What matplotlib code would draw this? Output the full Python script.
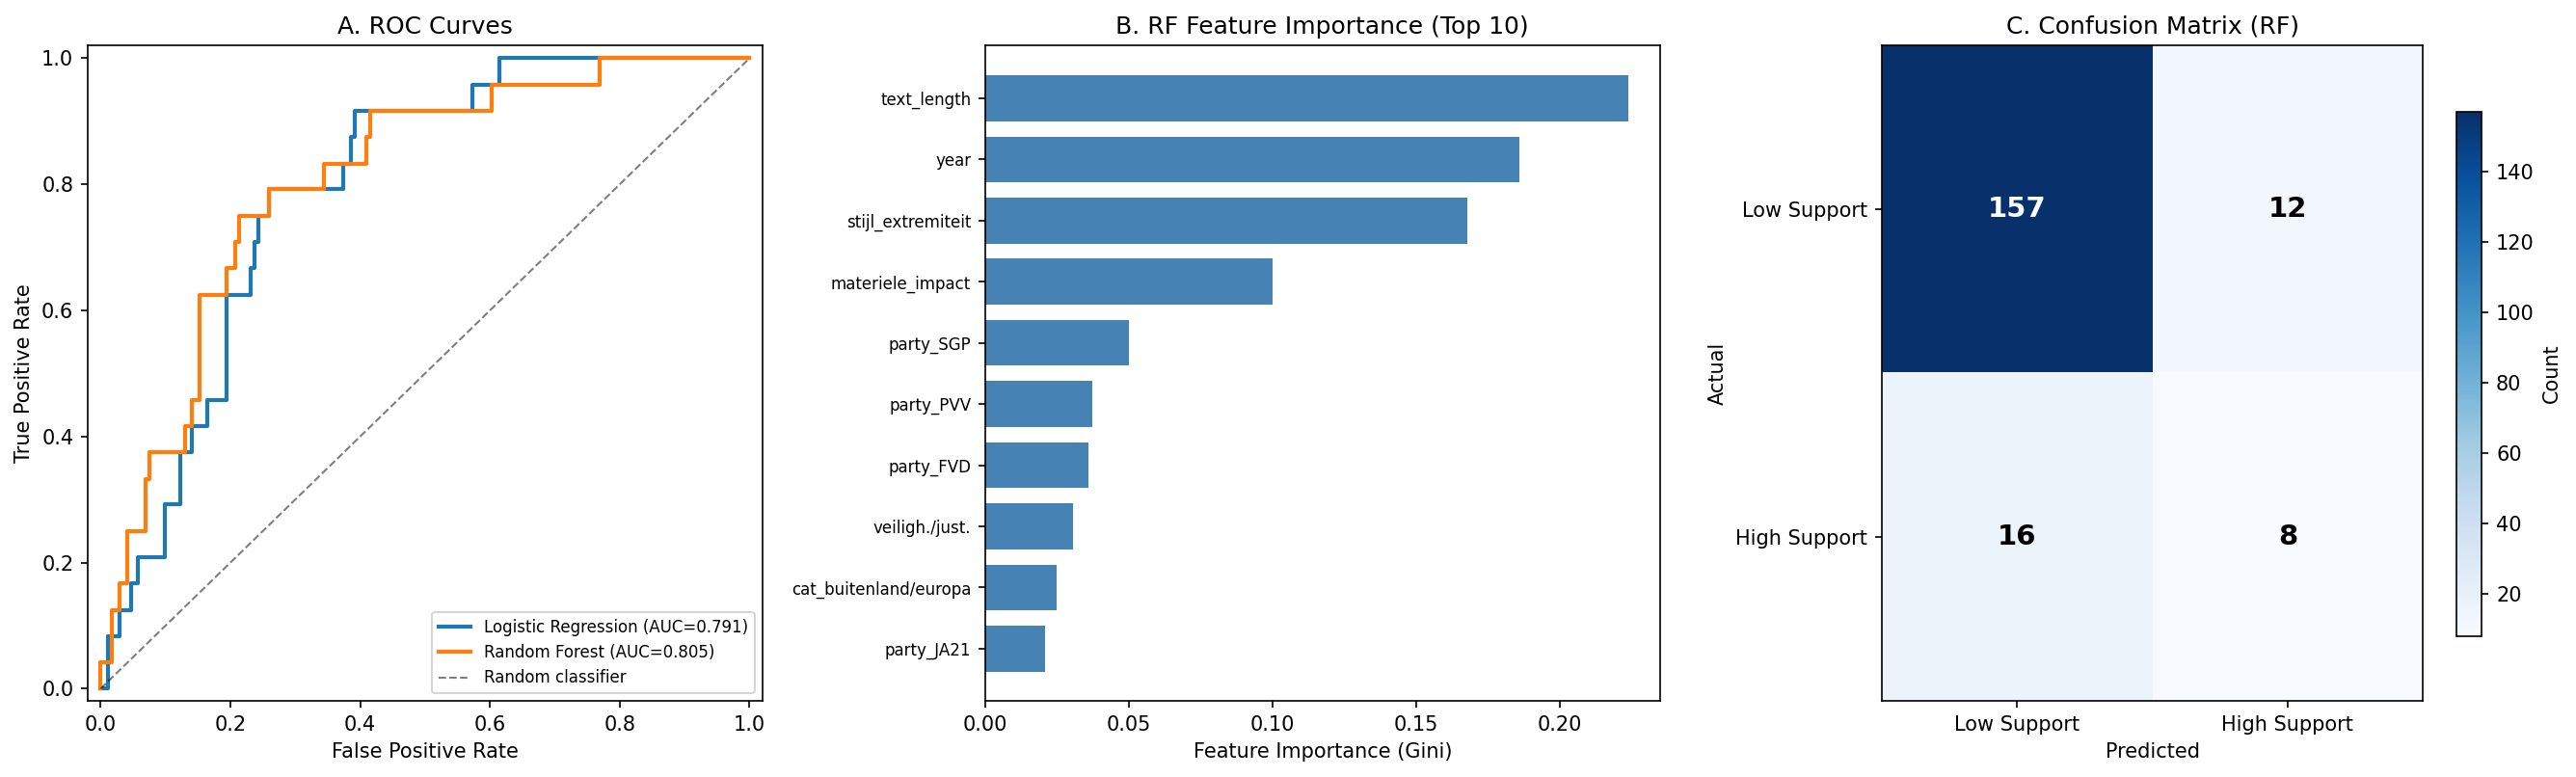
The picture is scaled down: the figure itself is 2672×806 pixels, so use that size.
import numpy as np
import matplotlib
matplotlib.use('Agg')
import matplotlib.pyplot as plt

# ROC-curve (stappen: fpr waar de sprong plaatsvindt, nieuwe tpr)
lr_fpr = [0.0, 0.0114, 0.0298, 0.047, 0.058, 0.0993, 0.123, 0.1414, 0.165, 0.1945,
          0.2307, 0.2367, 0.2427, 0.260, 0.3737, 0.3856, 0.3915, 0.5727, 0.615, 1.0]
lr_tpr = [0.0, 0.083, 0.125, 0.167, 0.208, 0.292, 0.375, 0.417, 0.458, 0.625,
          0.667, 0.708, 0.750, 0.792, 0.833, 0.875, 0.917, 0.958, 1.0, 1.0]
rf_fpr = [0.0, 0.0, 0.0174, 0.0298, 0.041, 0.070, 0.0755, 0.130, 0.1414, 0.153,
          0.1945, 0.207, 0.213, 0.260, 0.344, 0.409, 0.415, 0.603, 0.769, 1.0]
rf_tpr = [0.0, 0.042, 0.125, 0.167, 0.250, 0.333, 0.375, 0.417, 0.458, 0.625,
          0.667, 0.708, 0.750, 0.792, 0.833, 0.875, 0.917, 0.958, 1.0, 1.0]
auc_lr = 0.791
auc_rf = 0.805

# Feature importance (top 10)
features = ['text_length', 'year', 'stijl_extremiteit', 'materiele_impact', 'party_SGP',
            'party_PVV', 'party_FVD', 'veiligh./just.', 'cat_buitenland/europa', 'party_JA21']
importances = [0.2237, 0.1861, 0.1679, 0.1000, 0.0502, 0.0374, 0.0361, 0.0305, 0.0250, 0.0210]

# Confusion matrix
class_labels = ['Low Support', 'High Support']
conf_matrix = np.array([[157, 12],
                        [16, 8]])

fig = plt.figure(figsize=(2672 / 150, 806 / 150), dpi=150)
ax1 = fig.add_axes([0.034, 0.0974, 0.262, 0.8439])
ax2 = fig.add_axes([0.3824, 0.0974, 0.262, 0.8439])
ax3 = fig.add_axes([0.7305, 0.0974, 0.2101, 0.8439])
cax = fig.add_axes([0.9536, 0.1816, 0.0099, 0.6749])

# A. ROC
ax1.plot(lr_fpr, lr_tpr, drawstyle='steps-post', lw=2, color='#1f77b4',
         label=f'Logistic Regression (AUC={auc_lr:.3f})')
ax1.plot(rf_fpr, rf_tpr, drawstyle='steps-post', lw=2, color='#ff7f0e',
         label=f'Random Forest (AUC={auc_rf:.3f})')
ax1.plot([0, 1], [0, 1], 'k--', lw=1, alpha=0.5, label='Random classifier')
ax1.set_xlim(-0.02, 1.02)
ax1.set_ylim(-0.02, 1.02)
ax1.set_xlabel('False Positive Rate')
ax1.set_ylabel('True Positive Rate')
ax1.set_title('A. ROC Curves')
ax1.legend(loc='lower right', fontsize=8)

# B. Feature importance
ypos = np.arange(len(features))
ax2.barh(ypos, importances, height=0.75, color='steelblue')
ax2.set_yticks(ypos)
ax2.set_yticklabels(features, fontsize=8)
ax2.invert_yaxis()
ax2.set_xlabel('Feature Importance (Gini)')
ax2.set_title('B. RF Feature Importance (Top 10)')

# C. Confusion matrix
im = ax3.imshow(conf_matrix, cmap='Blues', aspect='auto')
for i in range(2):
    for j in range(2):
        kleur = 'white' if conf_matrix[i, j] > conf_matrix.max() / 2 else 'black'
        ax3.text(j, i, str(conf_matrix[i, j]), ha='center', va='center',
                 fontsize=14, fontweight='bold', color=kleur)
ax3.set_xticks([0, 1])
ax3.set_xticklabels(class_labels)
ax3.set_yticks([0, 1])
ax3.set_yticklabels(class_labels)
ax3.set_xlabel('Predicted')
ax3.set_ylabel('Actual')
ax3.set_title('C. Confusion Matrix (RF)')
cb = fig.colorbar(im, cax=cax)
cb.set_label('Count')

fig.savefig('out.png', dpi=150)
